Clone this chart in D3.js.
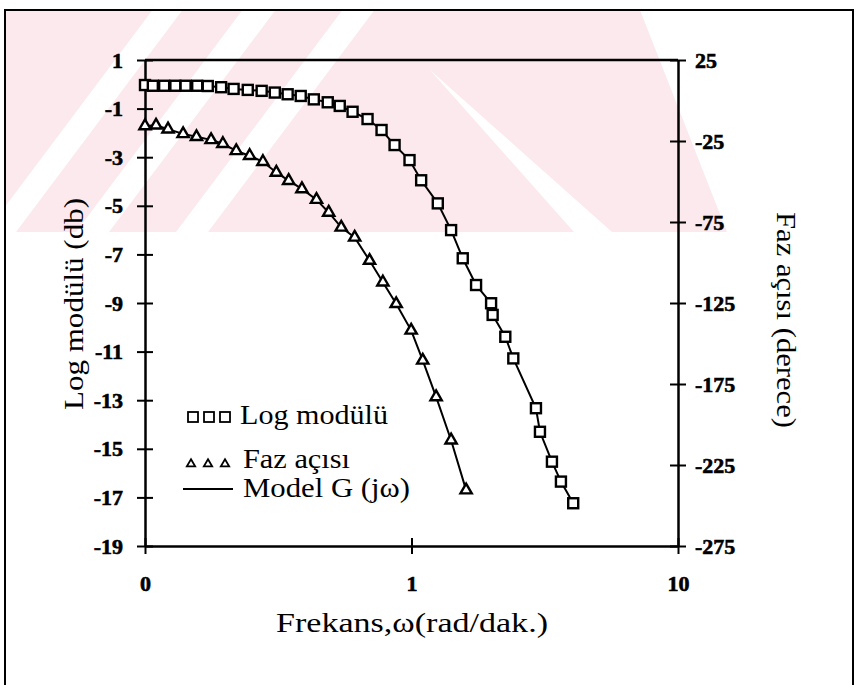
<!DOCTYPE html>
<html lang="tr">
<head>
<meta charset="UTF-8">
<title>Log modülü ve faz açısı</title>
<script src="https://cdn.jsdelivr.net/npm/d3@7"></script>
<style>
  body { margin: 0; background: #fff; }
  svg { display: block; font-family: "Liberation Serif", "DejaVu Serif", serif; }
  .title { font-size: 28px; }
</style>
</head>
<body>
<svg id="chart" width="865" height="685"></svg>
<script>
// log modulus (squares), dB vs rad/dak
const modFreq = [0.100, 0.107, 0.118, 0.130, 0.142, 0.157, 0.172, 0.193, 0.215, 0.243,
                 0.274, 0.307, 0.343, 0.384, 0.430, 0.485, 0.538, 0.601, 0.684, 0.772,
                 0.864, 0.983, 1.087, 1.255, 1.408, 1.557, 1.747, 1.989, 2.016, 2.249,
                 2.410, 2.931, 3.034, 3.365, 3.637, 4.044];
const modDb = [-0.03, -0.06, -0.06, -0.06, -0.06, -0.06, -0.07, -0.12, -0.19, -0.23,
               -0.27, -0.34, -0.41, -0.48, -0.62, -0.74, -0.89, -1.13, -1.43, -1.88,
               -2.50, -3.12, -3.95, -4.90, -6.00, -7.16, -8.26, -9.01, -9.49, -10.39,
               -11.28, -13.33, -14.30, -15.53, -16.35, -17.24];

// phase angle (triangles), degrees
const phaseFreq = [0.100, 0.110, 0.122, 0.139, 0.156, 0.177, 0.196, 0.220, 0.247, 0.277,
                   0.311, 0.346, 0.388, 0.440, 0.489, 0.545, 0.612, 0.696, 0.781, 0.876,
                   0.997, 1.102, 1.237, 1.408, 1.603];
const phaseDeg = [-15.7, -15.3, -17.7, -20.6, -22.4, -24.3, -26.7, -31.1, -34.1, -37.8,
                  -44.4, -49.5, -54.6, -61.2, -69.1, -78.3, -84.5, -98.8, -112.2, -125.5,
                  -141.9, -160.4, -183.0, -209.7, -240.5];

const dbTicks = [1, -1, -3, -5, -7, -9, -11, -13, -15, -17, -19];
const degTicks = [25, -25, -75, -125, -175, -225, -275];
const freqTicks = [0.1, 1, 10];
const freqTickLabels = ["0", "1", "10"];

const plot = {left: 145, right: 678, top: 60, bottom: 546};
const svg = d3.select("#chart");

const x = d3.scaleLog().domain([0.1, 10]).range([plot.left, plot.right]);
const yL = d3.scaleLinear().domain([-19, 1]).range([plot.bottom, plot.top]);
const yR = d3.scaleLinear().domain([-275, 25]).range([plot.bottom, plot.top]);

// faint pink watermark from the scanned page
svg.append("clipPath").attr("id", "wm")
  .append("rect").attr("x", 5).attr("y", 10).attr("width", 848).attr("height", 222);
const wm = svg.append("g").attr("clip-path", "url(#wm)");
wm.append("path").attr("fill", "#fce9ed")
  .attr("d", "M5,10L640,10L727,232L5,232Z");
const slant = 0.75;
[[70, 100], [160, 193], [260, 292]].forEach(([a, b]) => {
  const top = 110 * slant, bot = -112 * slant;
  wm.append("path").attr("fill", "#fff")
    .attr("d", `M${a + top},10L${b + top},10L${b + bot},232L${a + bot},232Z`);
});
wm.append("path").attr("fill", "#fff").attr("d", "M430,70L612,232L574,232Z");

// page frame
svg.append("rect").attr("x", 5).attr("y", 10).attr("width", 848).attr("height", 700)
  .attr("fill", "none").attr("stroke", "#000").attr("stroke-width", 2);

// top border of plot
svg.append("line").attr("x1", plot.left).attr("x2", plot.right)
  .attr("y1", plot.top).attr("y2", plot.top)
  .attr("stroke", "#000").attr("stroke-width", 2.5);

function styleAxis(g) {
  g.attr("font-family", null).attr("font-size", null);
  g.select(".domain").attr("stroke-width", 2.5);
  g.selectAll(".tick line").attr("stroke-width", 2);
  g.selectAll(".tick text")
    .attr("font-family", "'Liberation Serif', serif")
    .attr("font-weight", "bold")
    .attr("font-size", 22)
    .attr("fill", "#000")
    .attr("stroke", "#000").attr("stroke-width", 0.6);
}

const axL = svg.append("g").attr("transform", `translate(${plot.left},0)`)
  .call(d3.axisLeft(yL).tickValues(dbTicks).tickSize(8).tickSizeOuter(0)
    .tickPadding(14).tickFormat(d => String(d)))
  .call(styleAxis);
axL.selectAll(".tick line").attr("x1", 8);

const axR = svg.append("g").attr("transform", `translate(${plot.right},0)`)
  .call(d3.axisRight(yR).tickValues(degTicks).tickSize(8).tickSizeOuter(0)
    .tickPadding(9).tickFormat(d => String(d)))
  .call(styleAxis);
axR.selectAll(".tick line").attr("x1", -8);

const axB = svg.append("g").attr("transform", `translate(0,${plot.bottom})`)
  .call(d3.axisBottom(x).tickValues(freqTicks).tickSize(8).tickSizeOuter(0)
    .tickPadding(21).tickFormat((d, i) => freqTickLabels[i]))
  .call(styleAxis);
axB.selectAll(".tick line").attr("y1", -8);

// axis titles
svg.append("text").attr("class", "title")
  .attr("transform", "translate(83,304) rotate(-90)")
  .attr("text-anchor", "middle")
  .attr("textLength", 212).attr("lengthAdjust", "spacingAndGlyphs")
  .text("Log modülü (db)");

svg.append("text").attr("class", "title")
  .attr("transform", "translate(777,320) rotate(90)")
  .attr("text-anchor", "middle")
  .attr("textLength", 216).attr("lengthAdjust", "spacingAndGlyphs")
  .text("Faz açısı (derece)");

svg.append("text").attr("class", "title")
  .attr("x", 412).attr("y", 632)
  .attr("text-anchor", "middle")
  .attr("textLength", 272).attr("lengthAdjust", "spacingAndGlyphs")
  .text("Frekans,ω(rad/dak.)");

// model curves
const modData = modFreq.map((f, i) => ({f, v: modDb[i]}));
const phaseData = phaseFreq.map((f, i) => ({f, v: phaseDeg[i]}));

const lineL = d3.line().x(d => x(d.f)).y(d => yL(d.v));
const lineR = d3.line().x(d => x(d.f)).y(d => yR(d.v));

svg.append("path").datum(modData).attr("d", lineL)
  .attr("fill", "none").attr("stroke", "#000").attr("stroke-width", 2);
svg.append("path").datum(phaseData).attr("d", lineR)
  .attr("fill", "none").attr("stroke", "#000").attr("stroke-width", 2);

// markers
const sq = 10;
svg.append("g").selectAll("rect").data(modData).enter().append("rect")
  .attr("x", d => x(d.f) - sq / 2).attr("y", d => yL(d.v) - sq / 2)
  .attr("width", sq).attr("height", sq)
  .attr("fill", "#fff").attr("stroke", "#000").attr("stroke-width", 2.4);

const tri = d3.symbol().type(d3.symbolTriangle).size(55);
svg.append("g").selectAll("path").data(phaseData).enter().append("path")
  .attr("transform", d => `translate(${x(d.f)},${yR(d.v)})`)
  .attr("d", tri)
  .attr("fill", "#fff").attr("stroke", "#000").attr("stroke-width", 2.4);

// legend
const legend = svg.append("g");
[193, 209, 225].forEach(cx => {
  legend.append("rect").attr("x", cx - 5).attr("y", 412).attr("width", 10).attr("height", 10)
    .attr("fill", "#fff").attr("stroke", "#000").attr("stroke-width", 1.8);
});
legend.append("text").attr("class", "title").attr("x", 240).attr("y", 424)
  .attr("textLength", 148).attr("lengthAdjust", "spacingAndGlyphs").text("Log modülü");

const triSmall = d3.symbol().type(d3.symbolTriangle).size(30);
[191, 208, 225].forEach(cx => {
  legend.append("path").attr("transform", `translate(${cx},464)`).attr("d", triSmall)
    .attr("fill", "#fff").attr("stroke", "#000").attr("stroke-width", 1.8);
});
legend.append("text").attr("class", "title").attr("x", 243).attr("y", 468)
  .attr("textLength", 107).attr("lengthAdjust", "spacingAndGlyphs").text("Faz açısı");

legend.append("line").attr("x1", 183).attr("x2", 233).attr("y1", 489).attr("y2", 489)
  .attr("stroke", "#000").attr("stroke-width", 2);
legend.append("text").attr("class", "title").attr("x", 243).attr("y", 497)
  .attr("textLength", 167).attr("lengthAdjust", "spacingAndGlyphs").text("Model G (jω)");
</script>
</body>
</html>
